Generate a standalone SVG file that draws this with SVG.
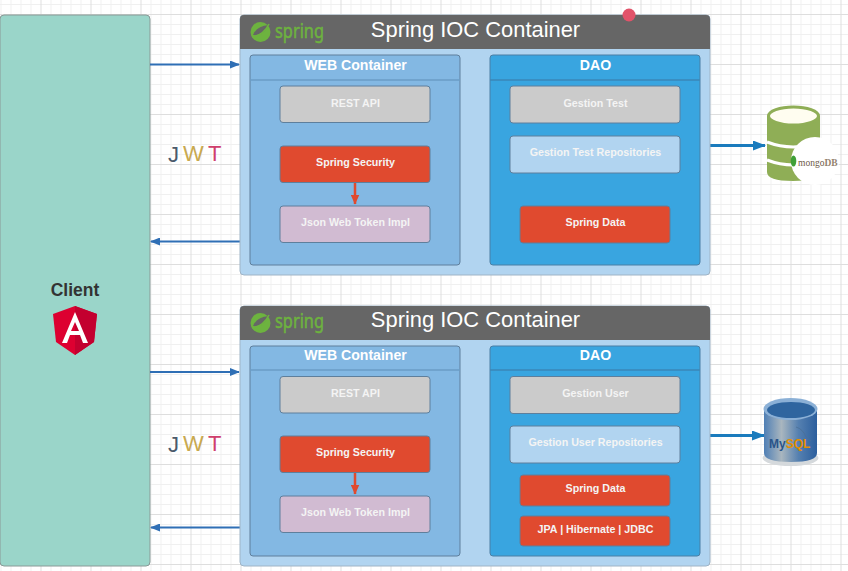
<svg xmlns="http://www.w3.org/2000/svg" width="848" height="571" viewBox="0 0 848 571">
<style>
text{font-family:"Liberation Sans",Arial,sans-serif}
.c{text-anchor:middle}
.title{font-size:21.900px;fill:#fff}
.head{font-size:14.100px;font-weight:bold;fill:#fff}
.lbl{font-size:10.700px;font-weight:bold;fill:#f4f4f4}
.box{stroke:#5e7f9c;stroke-width:1}
.grey{fill:#cbcbcb}.red{fill:#e04a2f}.mauve{fill:#d1bbd2}.pale{fill:#b1d4f0}
.outer{fill:#b1d4f0;stroke:#9fb4c6;stroke-width:1}
.bar{fill:#666}
.web{fill:#83b8e3;stroke:#5e7f9c}
.dao{fill:#39a5e0;stroke:#4a7fa5}
.sp{font-size:19px;fill:#6db33f;stroke:#6db33f;stroke-width:.5;font-family:"Noto Sans",sans-serif}
.ln{stroke:#2f6fb5;stroke-width:2;fill:none}
.ln2{stroke:#1a7bbd;stroke-width:3;fill:none}
.j{font-size:22px;font-family:"Liberation Sans",sans-serif}
</style>
<defs>
<pattern id="g" width="50" height="50" patternUnits="userSpaceOnUse" x="40.500" y="14">
<path d="M10.500 0V50M20.500 0V50M30.500 0V50M40.500 0V50M0 10.500H50M0 20.500H50M0 30.500H50M0 40.500H50" stroke="#f0f0f0" stroke-width="1"/>
<path d="M.5 0V50M0 .5H50" stroke="#dedede" stroke-width="1"/>
</pattern>
<marker id="a" markerWidth="10" markerHeight="8" refX="9" refY="4" orient="auto" markerUnits="userSpaceOnUse"><path d="M0 0L10 4L0 8Z" fill="#2f6fb5"/></marker>
<marker id="b" markerWidth="13" markerHeight="10" refX="12" refY="5" orient="auto" markerUnits="userSpaceOnUse"><path d="M0 0L13 5L0 10Z" fill="#1a7bbd"/></marker>
<marker id="r" markerWidth="10" markerHeight="9" refX="9.500" refY="4.500" orient="auto" markerUnits="userSpaceOnUse"><path d="M0 0L10 4.500L0 9Z" fill="#e04a2f"/></marker>
<g id="leaf"><circle cx="13.500" cy="17" r="10" fill="#6db33f"/><path d="M6 20C9 13 15 11 21 10C19 17 12 21 6 20Z" fill="#666"/><path d="M5 22C11 21 18 17 22 9" stroke="#6db33f" stroke-width="1.500" fill="none"/></g>
<linearGradient id="my" x1="0" x2="1" y1="0" y2="0"><stop offset="0" stop-color="#4f7fb5"/><stop offset=".33" stop-color="#a9b6bf"/><stop offset=".65" stop-color="#5580b0"/><stop offset="1" stop-color="#2c5f9e"/></linearGradient>
</defs>
<rect width="848" height="571" fill="#fff"/>
<rect width="848" height="571" fill="url(#g)"/>

<g id="client">
<rect x="0" y="15" width="150" height="551" rx="4" fill="#9ad5c9" stroke="#8a9a97"/>
<text class="c" x="75" y="296" font-size="17.500" font-weight="bold" fill="#333">Client</text>
<path d="M75 306L97 314L94 342L75 355L56 342L53 314Z" fill="#dd0031"/>
<path d="M75 306L97 314L94 342L75 355Z" fill="#c3002f"/>
<path d="M75 312L62 343H67L70 335H80L83 343H88ZM75 322L79 331H71Z" fill="#fff" fill-rule="evenodd"/>
</g>

<g id="connectors">
<path class="ln" d="M150 64.500H239" marker-end="url(#a)"/>
<path class="ln" d="M240 241.500H151" marker-end="url(#a)"/>
<path class="ln" d="M150 372H239" marker-end="url(#a)"/>
<path class="ln" d="M240 527.500H151" marker-end="url(#a)"/>
<path class="ln2" d="M710 145.500H765" marker-end="url(#b)"/>
<path class="ln2" d="M710 435.500H764" marker-end="url(#b)"/>
</g>

<g id="container-1">
<rect class="outer" x="240" y="15" width="470" height="260" rx="4"/>
<path class="bar" d="M244 15H706Q710 15 710 19V49H240V19Q240 15 244 15Z"/>
<use href="#leaf" x="247" y="15"/>
<text class="sp" x="275" y="38" textLength="49" lengthAdjust="spacingAndGlyphs">spring</text>
<text class="title c" x="475.500" y="36.500">Spring IOC Container</text>
</g>
<g id="web-1">
<rect class="web" x="250" y="55" width="210" height="210" rx="3"/>
<path d="M250 80H460" stroke="#6a9cc6" stroke-width="1.500"/>
<text class="head c" x="355.500" y="70">WEB Container</text>
</g>
<g id="rest-1"><rect class="box grey" x="280" y="86" width="150" height="36.500" rx="3"/><text class="lbl c" x="355.500" y="106.500">REST API</text></g>
<g id="sec-1"><rect class="box red" x="280" y="146" width="150" height="36.500" rx="3"/><text class="lbl c" x="355.500" y="165.500">Spring Security</text></g>
<g id="jwt-1"><rect class="box mauve" x="280" y="206" width="150" height="36.500" rx="3"/><text class="lbl c" x="355.500" y="225.500">Json Web Token Impl</text></g>
<path d="M355 183V204" stroke="#e04a2f" stroke-width="2.500" fill="none" marker-end="url(#r)"/>
<g id="dao-1">
<rect class="dao" x="490" y="55" width="210" height="210" rx="3"/>
<path d="M490 80H700" stroke="#3a87b8" stroke-width="1.500"/>
<text class="head c" x="595.500" y="70">DAO</text>
</g>
<g id="gt-1"><rect class="box grey" x="510" y="86" width="170" height="37" rx="3"/><text class="lbl c" x="595.500" y="106.500">Gestion Test</text></g>
<g id="gtr-1"><rect class="box pale" x="510" y="136" width="170" height="37" rx="3"/><text class="lbl c" x="595.500" y="155.500">Gestion Test Repositories</text></g>
<g id="sd-1"><rect class="box red" x="520" y="206" width="150" height="37" rx="3"/><text class="lbl c" x="595.500" y="225.500">Spring Data</text></g>

<g id="container-2">
<rect class="outer" x="240" y="306" width="470" height="260" rx="4"/>
<path class="bar" d="M244 306H706Q710 306 710 310V340H240V310Q240 306 244 306Z"/>
<use href="#leaf" x="247" y="306"/>
<text class="sp" x="275" y="328" textLength="49" lengthAdjust="spacingAndGlyphs">spring</text>
<text class="title c" x="475.500" y="326.500">Spring IOC Container</text>
</g>
<g id="web-2">
<rect class="web" x="250" y="346" width="210" height="210" rx="3"/>
<path d="M250 370H460" stroke="#6a9cc6" stroke-width="1.500"/>
<text class="head c" x="355.500" y="360">WEB Container</text>
</g>
<g id="rest-2"><rect class="box grey" x="280" y="376.500" width="150" height="36.500" rx="3"/><text class="lbl c" x="355.500" y="396.500">REST API</text></g>
<g id="sec-2"><rect class="box red" x="280" y="436" width="150" height="36.500" rx="3"/><text class="lbl c" x="355.500" y="455.500">Spring Security</text></g>
<g id="jwt-2"><rect class="box mauve" x="280" y="496" width="150" height="36.500" rx="3"/><text class="lbl c" x="355.500" y="515.500">Json Web Token Impl</text></g>
<path d="M355 473V494" stroke="#e04a2f" stroke-width="2.500" fill="none" marker-end="url(#r)"/>
<g id="dao-2">
<rect class="dao" x="490" y="346" width="210" height="210" rx="3"/>
<path d="M490 370H700" stroke="#3a87b8" stroke-width="1.500"/>
<text class="head c" x="595.500" y="360">DAO</text>
</g>
<g id="gu-2"><rect class="box grey" x="510" y="376.500" width="170" height="37" rx="3"/><text class="lbl c" x="595.500" y="396.500">Gestion User</text></g>
<g id="gur-2"><rect class="box pale" x="510" y="426" width="170" height="37" rx="3"/><text class="lbl c" x="595.500" y="445.500">Gestion User Repositories</text></g>
<g id="sd-2"><rect class="box red" x="520" y="475" width="150" height="31" rx="3"/><text class="lbl c" x="595.500" y="492">Spring Data</text></g>
<g id="jpa-2"><rect class="box red" x="520" y="516" width="150" height="30" rx="3"/><text class="lbl c" x="595.500" y="532.500">JPA | Hibernate | JDBC</text></g>

<g id="jwt-logo-1"><text class="j" x="168" y="162" fill="#4b5a6b">J</text><text class="j" x="183" y="161" fill="#c9a94f">W</text><text class="j" x="208" y="161" fill="#cf3f6c">T</text></g>
<g id="jwt-logo-2"><text class="j" x="168" y="452" fill="#4b5a6b">J</text><text class="j" x="183" y="451" fill="#c9a94f">W</text><text class="j" x="208" y="451" fill="#cf3f6c">T</text></g>

<g id="mongodb">
<path d="M767 116V172Q767 181 793 181Q820 181 820 172V116Z" fill="#8fae56"/>
<path d="M767 142Q793 152 820 142M767 160Q793 170 820 160" stroke="#fff" stroke-width="3" fill="none"/>
<ellipse cx="793.500" cy="116" rx="25" ry="9" fill="#fffdf0" stroke="#8fae56" stroke-width="3"/>
<circle cx="815" cy="161" r="24" fill="#fff"/>
<ellipse cx="793.500" cy="161" rx="2.800" ry="5.500" fill="#3fa037"/>
<text x="798" y="166" font-size="9.500" fill="#6d5a48" style="font-family:'Liberation Serif',serif">mongo<tspan font-weight="bold" fill="#94826e">DB</tspan></text>
</g>
<g id="mysql">
<ellipse cx="790.500" cy="458" rx="28" ry="8" fill="#d5d9dc"/>
<path d="M764 409V453Q764 462 791 462Q817 462 817 453V409Z" fill="url(#my)"/>
<ellipse cx="790.500" cy="409" rx="27" ry="11" fill="#8bb0d6"/>
<ellipse cx="791" cy="410" rx="24" ry="8" fill="#2f659f"/>
<path d="M796 427Q803 429 806 437L811 441" stroke="#4b6f96" stroke-width=".8" fill="none"/>
<text x="769" y="448" font-size="12" font-weight="bold" fill="#2a5488">My<tspan fill="#e48e00">SQL</tspan></text>
</g>
<circle id="dot" cx="629" cy="15" r="6.500" fill="#e2536a"/>
</svg>
